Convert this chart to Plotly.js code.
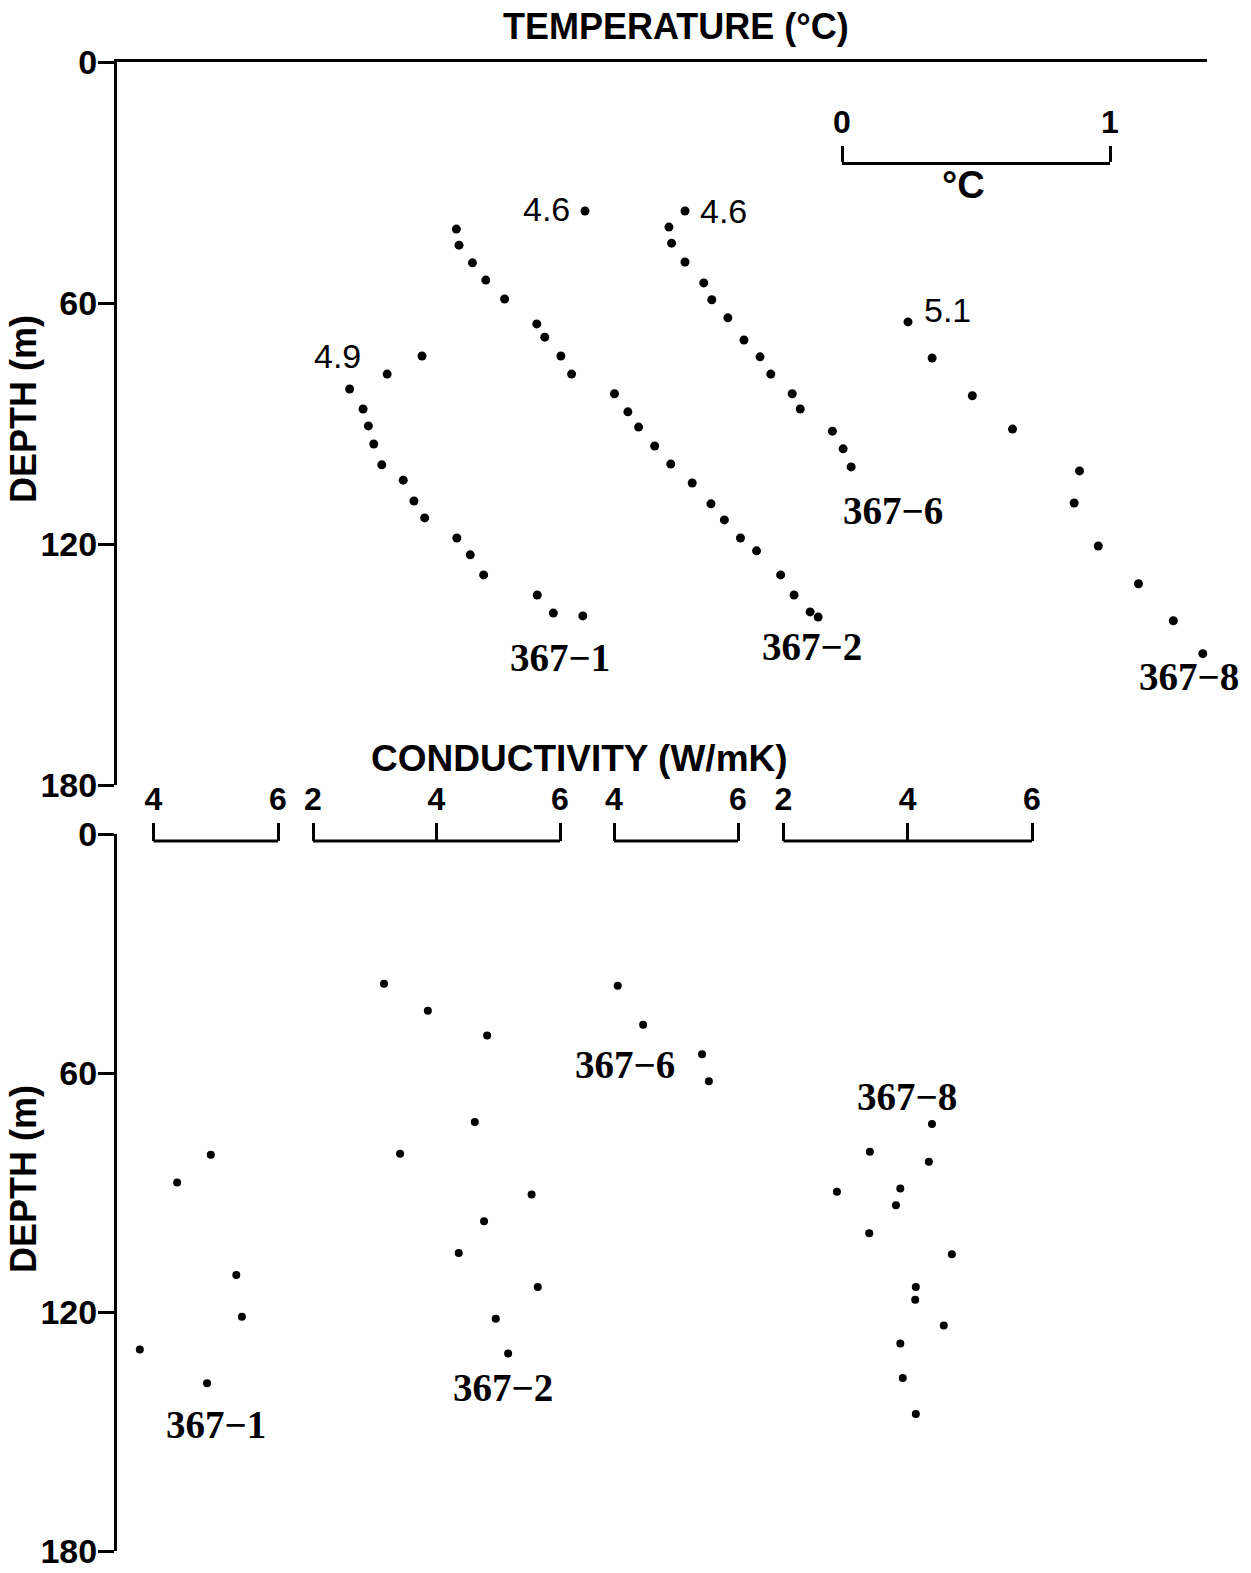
<!DOCTYPE html>
<html><head><meta charset="utf-8">
<script src="https://cdn.plot.ly/plotly-3.0.1.min.js"></script>
<style>html,body{margin:0;padding:0;background:#fff;}#chart{width:1251px;height:1573px;}</style>
</head><body><div id="chart"></div>
<script>
// ===================== DATA =====================
const depthTicks = [0, 60, 120, 180];
const wellNames = ['367-1', '367-2', '367-6', '367-8'];
const topTempLabels = ['4.9', '4.6', '4.6', '5.1'];

// Temperature (°C) vs depth (m)
const t1_depth = [73.2, 77.7, 81.4, 86.4, 90.6, 95.1, 100.3, 104.1, 109.3, 113.5, 118.5, 122.7, 127.7, 132.7, 137.2, 137.9];
const t1_temp  = [4.90, 4.77, 4.63, 4.68, 4.70, 4.72, 4.75, 4.83, 4.87, 4.91, 5.03, 5.08, 5.13, 5.33, 5.39, 5.50];

const t2_depth = [37.1, 41.6, 45.6, 50.0, 54.3, 59.0, 65.2, 68.5, 73.2, 77.7, 82.6, 87.1, 90.9, 95.6, 100.1, 104.8, 110.0, 114.0, 118.5, 121.7, 127.7, 132.7, 136.9, 138.2];
const t2_temp  = [4.60, 4.12, 4.13, 4.18, 4.23, 4.30, 4.42, 4.45, 4.51, 4.55, 4.71, 4.76, 4.80, 4.86, 4.92, 5.00, 5.07, 5.12, 5.18, 5.24, 5.33, 5.38, 5.44, 5.47];

const t6_depth = [37.1, 41.1, 45.1, 49.8, 55.0, 59.2, 63.7, 69.2, 73.4, 77.7, 82.6, 86.4, 91.9, 96.3, 100.8];
const t6_temp  = [4.60, 4.54, 4.55, 4.60, 4.67, 4.70, 4.76, 4.82, 4.88, 4.92, 5.00, 5.03, 5.15, 5.19, 5.22];

const t8_depth = [64.7, 73.7, 83.1, 91.4, 101.8, 109.8, 120.5, 129.9, 139.1, 147.3];
const t8_temp  = [5.10, 5.19, 5.34, 5.49, 5.74, 5.72, 5.81, 5.96, 6.09, 6.20];

// Thermal conductivity (W/mK) vs depth (m)
const k1_depth = [80.5, 87.5, 110.7, 121.2, 129.4, 137.9];
const k1_cond  = [4.92, 4.38, 5.33, 5.42, 3.78, 4.86];

const k2_depth = [37.6, 44.4, 50.6, 72.3, 80.3, 90.5, 97.2, 105.2, 113.7, 121.7, 130.4];
const k2_cond  = [3.15, 3.86, 4.82, 4.62, 3.41, 5.54, 4.77, 4.36, 5.64, 4.96, 5.16];

const k6_depth = [38.1, 47.9, 55.3, 62.1];
const k6_cond  = [4.06, 4.47, 5.42, 5.53];

const k8_depth = [72.8, 79.8, 82.3, 89.0, 89.8, 93.2, 100.2, 105.5, 113.7, 116.9, 123.4, 127.9, 136.6, 145.6];
const k8_cond  = [4.39, 3.39, 4.34, 3.88, 2.86, 3.81, 3.38, 4.71, 4.13, 4.12, 4.58, 3.88, 3.92, 4.13];

const tempScaleTicks = [0, 1];
const condTicks = [[4, 6], [2, 4, 6], [4, 6], [2, 4, 6]];

// ===================== LAYOUT GEOMETRY =====================
const W = 1251, H = 1573;
const L = 117, R = 1207, T = 62, B = 1551;
const PW = R - L, PH = B - T;
const px2x = px => (px - L) / PW;
const py2y = py => (B - py) / PH;
const topDom = [py2y(785), 1];
const botDom = [0, py2y(834)];

function rangeFor(val, px, ppu) { return [val - (px - L) / ppu, val + (R - px) / ppu]; }

const PX_PER_C = 268;
// pixel anchor of each temperature profile (first reading) on the page
const tempAnchorPx = [422, 585, 685, 908];
const tempSeries = [[t1_temp, t1_depth], [t2_temp, t2_depth], [t6_temp, t6_depth], [t8_temp, t8_depth]];
// conductivity scale bars: pixel ends on the page
const condBarPx = [[153.5, 278], [313, 560], [614, 738], [783.5, 1032]];
const condSeries = [[k1_cond, k1_depth], [k2_cond, k2_depth], [k6_cond, k6_depth], [k8_cond, k8_depth]];
const condBarY = 841;

const black = '#000';
const sans = 'Liberation Sans, Arial, Helvetica, sans-serif';
const serif = 'Liberation Serif, Times New Roman, serif';

const data = [];
const layout = {
  width: W, height: H,
  margin: {l: L, r: W - R, t: T, b: H - B, pad: 0},
  paper_bgcolor: '#fff', plot_bgcolor: 'rgba(0,0,0,0)',
  showlegend: false, hovermode: false,
  annotations: [], shapes: []
};

const yCommon = {
  range: [180, 0], tickvals: depthTicks, ticks: 'outside', ticklen: 16, tickwidth: 3,
  tickcolor: black, showline: true, linewidth: 3, linecolor: black,
  showgrid: false, zeroline: false, ticklabelstandoff: -6, ticklabeloverflow: 'allow',
  tickfont: {family: sans, size: 34, weight: 'bold', color: black}
};
layout.yaxis = Object.assign({}, yCommon, {domain: topDom, anchor: 'x'});
layout.yaxis2 = Object.assign({}, yCommon, {domain: botDom, anchor: 'x7'});

layout.xaxis = {domain: [0, 1], anchor: 'y', side: 'top', range: [0, 1], showline: true, linewidth: 3,
  linecolor: black, ticks: '', showticklabels: false, showgrid: false, zeroline: false};
data.push({x: [], y: [], xaxis: 'x', yaxis: 'y', type: 'scatter', mode: 'markers'});

// temperature profiles
tempSeries.forEach((s, i) => {
  const ax = 'xaxis' + (i + 2);
  layout[ax] = {overlaying: 'x', anchor: 'y', visible: false,
    range: rangeFor(s[0][0], tempAnchorPx[i], PX_PER_C)};
  data.push({x: s[0], y: s[1], xaxis: 'x' + (i + 2), yaxis: 'y', type: 'scatter', mode: 'markers',
    marker: {size: 9, color: black}, cliponaxis: false, name: wellNames[i]});
});

// temperature scale bar (1 °C)
layout.xaxis6 = {domain: [px2x(842), px2x(1110)], anchor: 'free', position: py2y(163), side: 'top',
  range: [0, 1], tickvals: tempScaleTicks, ticks: 'outside', ticklen: 16, tickwidth: 3, tickcolor: black,
  showline: true, linewidth: 3, linecolor: black, showgrid: false, zeroline: false, ticklabelstandoff: 0,
  tickfont: {family: sans, size: 32, weight: 'bold', color: black}};
data.push({x: [], y: [], xaxis: 'x6', yaxis: 'y', type: 'scatter', mode: 'markers'});

// bottom base axis
layout.xaxis7 = {domain: [0, 1], anchor: 'y2', range: [0, 1], visible: false};
data.push({x: [], y: [], xaxis: 'x7', yaxis: 'y2', type: 'scatter', mode: 'markers'});

// conductivity profiles + their scale bars
condSeries.forEach((s, i) => {
  const n = i + 8;
  const ticks = condTicks[i];
  const k0 = ticks[0], k1 = ticks[ticks.length - 1];
  const ppu = (condBarPx[i][1] - condBarPx[i][0]) / (k1 - k0);
  layout['xaxis' + n] = {overlaying: 'x7', anchor: 'free', position: py2y(condBarY), side: 'top',
    range: rangeFor(k0, condBarPx[i][0], ppu), tickvals: ticks, ticks: 'outside', ticklen: 18,
    tickwidth: 3, tickcolor: black, showline: false, showgrid: false, zeroline: false,
    ticklabelstandoff: 0, tickfont: {family: sans, size: 32, weight: 'bold', color: black}};
  layout.shapes.push({type: 'line', xref: 'x' + n, yref: 'paper', x0: k0, x1: k1,
    y0: py2y(condBarY), y1: py2y(condBarY), line: {color: black, width: 3}});
  data.push({x: s[0], y: s[1], xaxis: 'x' + n, yaxis: 'y2', type: 'scatter', mode: 'markers',
    marker: {size: 8, color: black}, cliponaxis: false, name: wellNames[i]});
});

function ann(text, px, py, font, extra) {
  layout.annotations.push(Object.assign({text: text, xref: 'paper', yref: 'paper', x: px2x(px), y: py2y(py),
    xanchor: 'center', yanchor: 'middle', showarrow: false, font: font}, extra || {}));
}
ann('TEMPERATURE (°C)', 676, 27, {family: sans, size: 36, weight: 'bold', color: black});
ann('CONDUCTIVITY (W/mK)', 579, 759, {family: sans, size: 37, weight: 'bold', color: black});
ann('DEPTH (m)', 23, 409, {family: sans, size: 36, weight: 'bold', color: black}, {textangle: -90});
ann('DEPTH (m)', 23, 1179, {family: sans, size: 36, weight: 'bold', color: black}, {textangle: -90});
ann('°C', 963, 185, {family: sans, size: 38, weight: 'bold', color: black});

const numFont = {family: sans, size: 34, color: black};
ann(topTempLabels[0], 337, 356, numFont);
ann(topTempLabels[1], 546, 209, numFont);
ann(topTempLabels[2], 723, 211, numFont);
ann(topTempLabels[3], 947, 310, numFont);

const wellFont = {family: serif, size: 39, weight: 'bold', color: black};
const lbl = s => s.replace('-', '\u2212');
ann(lbl(wellNames[0]), 560, 657, wellFont);
ann(lbl(wellNames[1]), 812, 646, wellFont);
ann(lbl(wellNames[2]), 893, 510, wellFont);
ann(lbl(wellNames[3]), 1189, 677, wellFont);
ann(lbl(wellNames[0]), 216, 1424, wellFont);
ann(lbl(wellNames[1]), 503, 1387, wellFont);
ann(lbl(wellNames[2]), 625, 1064, wellFont);
ann(lbl(wellNames[3]), 907, 1096, wellFont);

Plotly.newPlot('chart', data, layout, {staticPlot: true, displayModeBar: false});
</script></body></html>
